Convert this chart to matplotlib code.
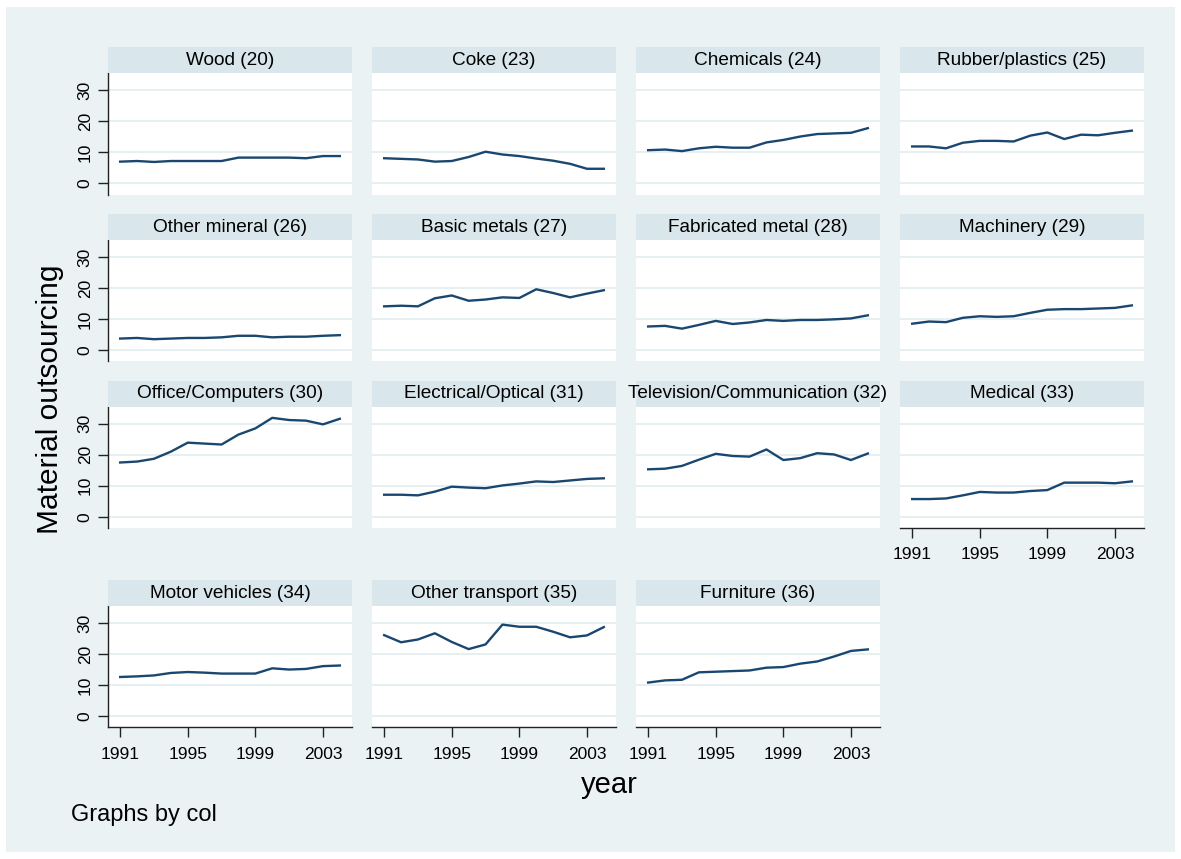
import matplotlib
matplotlib.use("Agg")
import matplotlib.pyplot as plt
from matplotlib.patches import Rectangle

plt.rcParams['font.family'] = ['Liberation Sans', 'DejaVu Sans']

# Material outsourcing by industry, 1991-2004
years = list(range(1991, 2005))

titles = [
    "Wood (20)", "Coke (23)", "Chemicals (24)", "Rubber/plastics (25)",
    "Other mineral (26)", "Basic metals (27)", "Fabricated metal (28)", "Machinery (29)",
    "Office/Computers (30)", "Electrical/Optical (31)", "Television/Communication (32)", "Medical (33)",
    "Motor vehicles (34)", "Other transport (35)", "Furniture (36)",
]

wood = [7.0, 7.2, 6.9, 7.2, 7.2, 7.2, 7.2, 8.3, 8.3, 8.3, 8.3, 8.1, 8.8, 8.8]
coke = [8.1, 7.9, 7.7, 7.0, 7.2, 8.5, 10.2, 9.3, 8.8, 8.0, 7.3, 6.3, 4.7, 4.7]
chemicals = [10.7, 10.9, 10.4, 11.3, 11.8, 11.5, 11.5, 13.2, 14.0, 15.1, 15.9, 16.1, 16.3, 17.8]
rubber = [11.9, 11.9, 11.3, 13.1, 13.7, 13.7, 13.5, 15.4, 16.4, 14.3, 15.7, 15.5, 16.3, 17.0]
other_mineral = [3.7, 3.9, 3.5, 3.7, 3.9, 3.9, 4.1, 4.6, 4.6, 4.1, 4.3, 4.3, 4.6, 4.8]
basic_metals = [14.1, 14.3, 14.1, 16.7, 17.6, 15.9, 16.3, 17.0, 16.8, 19.6, 18.4, 17.0, 18.2, 19.3]
fabricated = [7.6, 7.8, 6.9, 8.1, 9.4, 8.4, 8.9, 9.7, 9.4, 9.7, 9.7, 9.9, 10.2, 11.2]
machinery = [8.5, 9.2, 9.0, 10.4, 10.9, 10.7, 10.9, 12.0, 13.0, 13.2, 13.2, 13.4, 13.6, 14.4]
office = [17.5, 17.8, 18.7, 21.0, 23.9, 23.6, 23.3, 26.5, 28.5, 31.9, 31.2, 31.0, 29.8, 31.6]
electrical = [7.1, 7.1, 6.9, 8.1, 9.7, 9.4, 9.2, 10.1, 10.7, 11.4, 11.2, 11.7, 12.2, 12.4]
television = [15.3, 15.5, 16.4, 18.4, 20.3, 19.6, 19.4, 21.7, 18.3, 18.9, 20.5, 20.1, 18.3, 20.4]
medical = [5.7, 5.7, 5.9, 6.9, 8.0, 7.8, 7.8, 8.3, 8.6, 11.0, 11.0, 11.0, 10.8, 11.4]
motor = [12.6, 12.8, 13.1, 13.9, 14.2, 14.0, 13.7, 13.7, 13.7, 15.4, 15.0, 15.2, 16.1, 16.3]
other_transport = [26.1, 23.8, 24.7, 26.7, 23.9, 21.6, 23.1, 29.5, 28.8, 28.8, 27.2, 25.4, 26.0, 28.7]
furniture = [10.8, 11.5, 11.7, 14.1, 14.3, 14.5, 14.7, 15.6, 15.8, 16.9, 17.6, 19.2, 21.0, 21.5]

series = [wood, coke, chemicals, rubber, other_mineral, basic_metals, fabricated,
          machinery, office, electrical, television, medical, motor,
          other_transport, furniture]

y_ticks = [0, 10, 20, 30]
x_ticks = [1991, 1995, 1999, 2003]

BG = "#eaf2f3"
STRIP = "#d9e6eb"
GRID = "#e6eff1"
LINE = "#1a476f"
AXIS = "#222222"

W, H = 1181, 859
fig = plt.figure(figsize=(W / 100, H / 100), dpi=100, facecolor="white")
fig.patches.append(Rectangle((6 / W, 1 - 852 / H), (1175 - 6) / W, (852 - 7) / H,
                             transform=fig.transFigure, facecolor=BG,
                             edgecolor="none", zorder=-10))

col_x = [108, 372, 636, 900]
row_top = [73.3, 240.0, 406.7, 606.0]
pw, ph, sh = 244, 121.2, 26

for i, (title, vals) in enumerate(zip(titles, series)):
    r, c = divmod(i, 4)
    x0, top = col_x[c], row_top[r]

    ax = fig.add_axes([x0 / W, 1 - (top + ph) / H, pw / W, ph / H])
    ax.set_facecolor("white")
    ax.plot(years, vals, color=LINE, lw=1.7, solid_joinstyle="round")
    ax.set_xlim(1990.28, 2004.72)
    ax.set_ylim(-3.6, 35.5)
    ax.set_yticks(y_ticks)
    ax.set_xticks(x_ticks)
    ax.yaxis.grid(True, color=GRID, lw=1.4)
    ax.set_axisbelow(True)
    for s in ax.spines.values():
        s.set_visible(False)

    if c == 0:
        ax.spines["left"].set_visible(True)
        ax.spines["left"].set_color(AXIS)
        ax.spines["left"].set_linewidth(1.0)
        ax.tick_params(axis="y", length=7, width=1, color=AXIS, labelsize=12.5,
                       pad=4, labelrotation=90)
        for lab in ax.get_yticklabels():
            lab.set_va("center")
    else:
        ax.tick_params(axis="y", left=False, labelleft=False)

    if r == 3 or i == 11:
        ax.spines["bottom"].set_visible(True)
        ax.spines["bottom"].set_color(AXIS)
        ax.spines["bottom"].set_linewidth(1.0)
        ax.tick_params(axis="x", length=7, width=1, color=AXIS, labelsize=12.5, pad=7)
    else:
        ax.tick_params(axis="x", bottom=False, labelbottom=False)

    sax = fig.add_axes([x0 / W, 1 - top / H, pw / W, sh / H])
    sax.set_facecolor(STRIP)
    sax.set_xticks([])
    sax.set_yticks([])
    for s in sax.spines.values():
        s.set_visible(False)
    sax.text(0.5, 0.5, title, ha="center", va="center", fontsize=13.7,
             transform=sax.transAxes, clip_on=False)

fig.text(50 / W, 1 - 399 / H, "Material outsourcing", rotation=90,
         fontsize=21.5, ha="center", va="center")
fig.text(609 / W, 1 - 785 / H, "year", fontsize=21, ha="center", va="center")
fig.text(71 / W, 1 - 815 / H, "Graphs by col", fontsize=17, ha="left", va="center")

fig.savefig("out.png", dpi=100, facecolor="white")
